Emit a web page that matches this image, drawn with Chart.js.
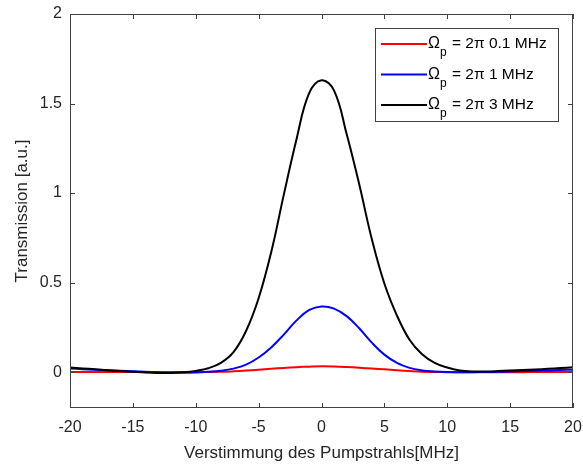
<!DOCTYPE html>
<html>
<head>
<meta charset="utf-8">
<script src="https://cdn.jsdelivr.net/npm/chart.js@4.4.1/dist/chart.umd.min.js"></script>
<style>
  html, body { margin: 0; padding: 0; background: #fff; }
  #wrap { width: 583px; height: 465px; }
</style>
</head>
<body>
<div id="wrap"><canvas id="transmission"></canvas></div>
<script>
// Verstimmung in MHz
const detuning = [-20, -19, -18, -17, -16, -15, -14, -13, -12, -11, -10, -9, -8, -7, -6, -5, -4, -3, -2, -1,
                  0, 1, 2, 3, 4, 5, 6, 7, 8, 9, 10, 11, 12, 13, 14, 15, 16, 17, 18, 19, 20];

// Transmission fuer die drei Rabi-Frequenzen
const trans01 = [0.001, 0.001, 0.001, 0.001, 0.001, 0.001, 0.001, 0.001, 0.001, 0.001, 0.001, 0.001, 0.002, 0.005, 0.009, 0.014, 0.019, 0.024, 0.028, 0.031,
                 0.033, 0.032, 0.029, 0.025, 0.020, 0.016, 0.011, 0.006, 0.002, 0.001, 0.000, 0.000, 0.000, 0.000, 0.000, 0.000, 0.000, 0.001, 0.001, 0.001, 0.001];
const trans1 = [0.020, 0.017, 0.014, 0.011, 0.008, 0.005, 0.002, -0.001, -0.003, -0.003, -0.002, 0.002, 0.008, 0.020, 0.042, 0.082, 0.138, 0.210, 0.288, 0.346,
                0.367, 0.355, 0.313, 0.245, 0.165, 0.098, 0.052, 0.024, 0.010, 0.004, 0.001, 0.000, 0.000, 0.001, 0.002, 0.004, 0.006, 0.008, 0.010, 0.012, 0.014];
const trans3 = [0.026, 0.021, 0.016, 0.011, 0.006, 0.002, -0.002, -0.004, -0.004, -0.001, 0.007, 0.022, 0.052, 0.112, 0.230, 0.413, 0.670, 0.990, 1.297, 1.555,
                1.630, 1.572, 1.330, 1.049, 0.743, 0.495, 0.316, 0.181, 0.100, 0.052, 0.026, 0.010, 0.004, 0.004, 0.006, 0.009, 0.012, 0.015, 0.019, 0.023, 0.027];

const rabiLabels = ['0.1', '1', '3'];
const xTicks = [-20, -15, -10, -5, 0, 5, 10, 15, 20];
const yTicks = [0, 0.5, 1, 1.5, 2];

const FONT = '"Liberation Sans", Arial, Helvetica, sans-serif';
const TEXT = '#262626';
const AXIS = '#404040';

const pts = arr => arr.map((v, i) => ({ x: detuning[i], y: v }));

// Rahmen mit Innen-Ticks (wie MATLAB "box on") und Legende
const framePlugin = {
  id: 'frame',
  afterDatasetsDraw(chart) {
    const { ctx, chartArea: a, scales: { x, y } } = chart;
    ctx.save();
    ctx.strokeStyle = AXIS;
    ctx.lineWidth = 1;
    ctx.beginPath();
    xTicks.forEach(v => {
      const px = Math.round(x.getPixelForValue(v)) + 0.5;
      ctx.moveTo(px, a.bottom); ctx.lineTo(px, a.bottom - 5);
      ctx.moveTo(px, a.top); ctx.lineTo(px, a.top + 5);
    });
    yTicks.forEach(v => {
      const py = Math.round(y.getPixelForValue(v)) + 0.5;
      ctx.moveTo(a.left, py); ctx.lineTo(a.left + 5, py);
      ctx.moveTo(a.right, py); ctx.lineTo(a.right - 5, py);
    });
    ctx.stroke();
    ctx.strokeRect(a.left + 0.5, a.top + 0.5, a.right - a.left - 1, a.bottom - a.top - 1);

    // Legende
    const lx = 375, ly = 28, lw = 184, lh = 94;
    ctx.fillStyle = '#fff';
    ctx.fillRect(lx, ly, lw, lh);
    ctx.strokeRect(lx + 0.5, ly + 0.5, lw - 1, lh - 1);
    chart.data.datasets.forEach((ds, i) => {
      const cy = ly + 16 + i * 30.5;
      ctx.strokeStyle = ds.borderColor;
      ctx.lineWidth = 2;
      ctx.beginPath();
      ctx.moveTo(lx + 6, cy); ctx.lineTo(lx + 52, cy);
      ctx.stroke();
      ctx.fillStyle = '#000';
      ctx.textBaseline = 'middle';
      ctx.textAlign = 'left';
      ctx.font = '16px ' + FONT;
      let tx = lx + 53;
      ctx.fillText('\u03A9', tx, cy);
      tx += ctx.measureText('\u03A9').width;
      ctx.font = '12px ' + FONT;
      ctx.fillText('p', tx, cy + 9);
      tx += ctx.measureText('p').width + 1;
      ctx.font = '15.5px ' + FONT;
      ctx.fillText(' = 2\u03C0 ' + rabiLabels[i] + ' MHz', tx, cy);
    });
    ctx.restore();
  }
};

new Chart(document.getElementById('transmission'), {
  type: 'line',
  data: {
    datasets: [
      { label: '\u03A9p = 2\u03C0 0.1 MHz', data: pts(trans01), borderColor: '#ff0000', order: 2 },
      { label: '\u03A9p = 2\u03C0 1 MHz', data: pts(trans1), borderColor: '#0000ff', order: 1 },
      { label: '\u03A9p = 2\u03C0 3 MHz', data: pts(trans3), borderColor: '#000000', order: 0 }
    ]
  },
  options: {
    responsive: true,
    maintainAspectRatio: false,
    animation: false,
    devicePixelRatio: 1,
    layout: { autoPadding: false, padding: { left: 0, top: 14, right: 10, bottom: 0 } },
    elements: {
      point: { radius: 0 },
      line: { borderWidth: 2, tension: 0.4, fill: false }
    },
    plugins: {
      legend: { display: false },
      tooltip: { enabled: false }
    },
    scales: {
      x: {
        type: 'linear',
        min: -20,
        max: 20,
        afterBuildTicks: s => { s.ticks = xTicks.map(v => ({ value: v })); },
        afterFit: s => { s.height = 57; s.paddingLeft = 0; s.paddingRight = 0; },
        grid: { display: false, drawTicks: false },
        border: { display: false },
        ticks: { padding: 10, color: TEXT, font: { family: FONT, size: 16 }, callback: v => String(v) },
        title: {
          display: true,
          text: 'Verstimmung des Pumpstrahls[MHz]',
          color: TEXT,
          font: { family: FONT, size: 17 },
          padding: { top: 0, bottom: 1 }
        }
      },
      y: {
        min: -0.2,
        max: 2,
        afterBuildTicks: s => { s.ticks = yTicks.map(v => ({ value: v })); },
        afterFit: s => { s.width = 70; s.paddingTop = 0; s.paddingBottom = 0; },
        grid: { display: false, drawTicks: false },
        border: { display: false },
        ticks: { padding: 8, color: TEXT, font: { family: FONT, size: 16 }, callback: v => String(v) },
        title: {
          display: true,
          text: 'Transmission [a.u.]',
          color: TEXT,
          font: { family: FONT, size: 17 },
          padding: { top: 12, bottom: 0 }
        }
      }
    }
  },
  plugins: [framePlugin]
});
</script>
</body>
</html>
